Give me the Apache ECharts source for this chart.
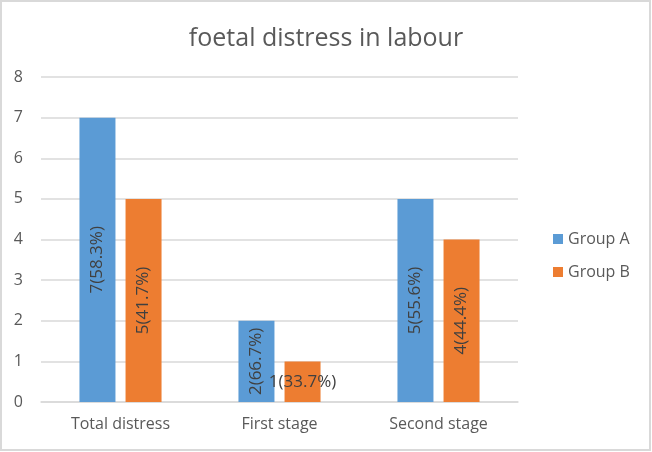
<!DOCTYPE html>
<html>
<head>
<meta charset="utf-8">
<script src="https://cdn.jsdelivr.net/npm/echarts@6/dist/echarts.min.js"></script>
<style>
html,body{margin:0;padding:0;background:#fff;}
#frame{position:absolute;left:0;top:0;width:651px;height:451px;box-sizing:border-box;border:2px solid #d9d9d9;}
#chart{position:absolute;left:0;top:0;width:652px;height:452px;}
</style>
</head>
<body>
<div id="frame"></div>
<div id="chart"></div>
<script>
const categories = ['Total distress', 'First stage', 'Second stage'];
const groupA = [7, 2, 5];
const groupB = [5, 1, 4];
const labelsA = ['7(58.3%)', '2(66.7%)', '5(55.6%)'];
const labelsB = ['5(41.7%)', '1(33.7%)', '4(44.4%)'];
const yTicks = [0, 1, 2, 3, 4, 5, 6, 7, 8];

const FONT = '"Open Sans", sans-serif';
const chart = echarts.init(document.getElementById('chart'), null, {renderer: 'canvas'});

function mk(vals, horizontalIdx) {
  return vals.map((v, i) => {
    const item = {value: v};
    if (horizontalIdx.includes(i)) item.label = {rotate: 0};
    return item;
  });
}

const labelBase = {
  show: true,
  position: 'inside',
  rotate: 90,
  color: '#404040',
  fontSize: 17,
  fontFamily: FONT
};

chart.setOption({
  animation: false,
  backgroundColor: 'transparent',
  title: {
    text: 'foetal distress in labour',
    left: 'center',
    top: 21,
    textStyle: {color: '#595959', fontSize: 25, fontWeight: 'normal', fontFamily: FONT}
  },
  legend: {
    orient: 'vertical',
    left: 548,
    top: 226,
    itemWidth: 10,
    itemHeight: 10,
    itemGap: 17,
    icon: 'rect',
    textStyle: {color: '#595959', fontSize: 16, fontFamily: FONT},
    data: ['Group A', 'Group B']
  },
  grid: {left: 41, right: 134, top: 77, bottom: 50, containLabel: false},
  xAxis: {
    type: 'category',
    data: categories,
    axisLine: {show: true, lineStyle: {color: '#d9d9d9', width: 1.5}},
    axisTick: {show: false},
    axisLabel: {color: '#595959', fontSize: 16, fontFamily: FONT, margin: 14}
  },
  yAxis: {
    type: 'value',
    min: yTicks[0],
    max: yTicks[yTicks.length - 1],
    interval: 1,
    axisLine: {show: false},
    axisTick: {show: false},
    axisLabel: {color: '#595959', fontSize: 16, fontFamily: FONT, margin: 18},
    splitLine: {lineStyle: {color: '#d9d9d9', width: 1.5}}
  },
  series: [
    {
      name: 'Group A',
      type: 'bar',
      data: mk(groupA, []),
      barWidth: 36,
      barGap: '28%',
      itemStyle: {color: '#5b9bd5'},
      label: Object.assign({}, labelBase, {formatter: p => labelsA[p.dataIndex]})
    },
    {
      name: 'Group B',
      type: 'bar',
      data: mk(groupB, [1]),
      barWidth: 36,
      itemStyle: {color: '#ed7d31'},
      label: Object.assign({}, labelBase, {formatter: p => labelsB[p.dataIndex]})
    }
  ]
});
</script>
</body>
</html>
